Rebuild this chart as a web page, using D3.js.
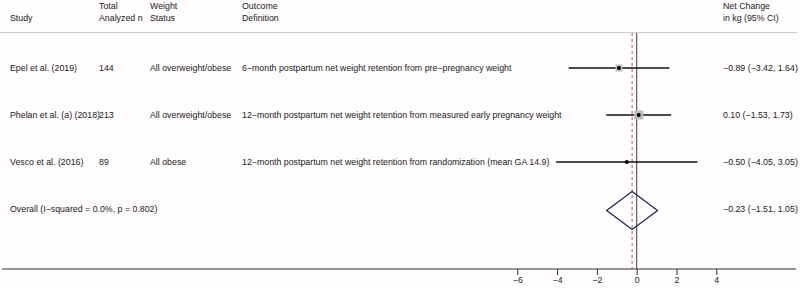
<!DOCTYPE html>
<html>
<head>
<meta charset="utf-8">
<script src="https://cdn.jsdelivr.net/npm/d3@7"></script>
<style>
  body { margin: 0; background: #fefcfc; }
  svg { display: block; font-family: "Liberation Sans", Arial, sans-serif; }
</style>
</head>
<body>
<svg id="chart" width="800" height="288"></svg>
<script>
// data
const studies = ["Epel et al. (2019)", "Phelan et al. (a) (2018)", "Vesco et al. (2016)"];
const totalN = ["144", "213", "89"];
const weightStatus = ["All overweight/obese", "All overweight/obese", "All obese"];
const outcomes = [
  "6\u2212month postpartum net weight retention from pre\u2212pregnancy weight",
  "12\u2212month postpartum net weight retention from measured early pregnancy weight",
  "12\u2212month postpartum net weight retention from randomization (mean GA 14.9)"
];
const estimates = [-0.89, 0.10, -0.50];
const lower = [-3.42, -1.53, -4.05];
const upper = [1.64, 1.73, 3.05];
const boxSize = [7, 9, 2];
const overall = {label: "Overall  (I\u2212squared = 0.0%, p = 0.802)", est: -0.23, lo: -1.51, hi: 1.05};
const tickValues = [-6, -4, -2, 0, 2, 4];

const fmt = d3.format(".2f");
const num = v => fmt(v).replace("-", "\u2212");

const svg = d3.select("#chart");
const textColor = "#222";
const fs = 8.8;

// x scale for effect sizes
const x = d3.scaleLinear().domain([-6, 4]).range([517.3, 716.3]);

// row positions
const rowY = d3.scalePoint().domain(d3.range(4)).range([68, 209]);

// header
const header = svg.append("g").attr("font-size", fs).attr("fill", textColor);
const hdr = [
  {x: 10, lines: ["", "Study"]},
  {x: 99, lines: ["Total", "Analyzed n"]},
  {x: 150, lines: ["Weight", "Status"]},
  {x: 242, lines: ["Outcome", "Definition"]},
  {x: 723, lines: ["Net Change", "in kg (95% CI)"]}
];
hdr.forEach(h => {
  h.lines.forEach((l, i) => {
    header.append("text").attr("x", h.x).attr("y", 9 + i * 12).text(l);
  });
});

svg.append("line")
  .attr("x1", 0).attr("x2", 797).attr("y1", 32.5).attr("y2", 32.5)
  .attr("stroke", "#cfcaca").attr("stroke-width", 1);

// reference lines
svg.append("line")
  .attr("x1", x(0)).attr("x2", x(0)).attr("y1", 33).attr("y2", 269)
  .attr("stroke", "#4a3a3a").attr("stroke-width", 1);
svg.append("line")
  .attr("x1", x(overall.est)).attr("x2", x(overall.est)).attr("y1", 33).attr("y2", 269)
  .attr("stroke", "#b05a5a").attr("stroke-width", 1).attr("stroke-dasharray", "3,3");

// study rows
const rows = svg.append("g").attr("font-size", fs).attr("fill", textColor);
studies.forEach((s, i) => {
  const y = rowY(i);
  rows.append("text").attr("x", 10).attr("y", y + 3).text(s);
  rows.append("text").attr("x", 99).attr("y", y + 3).text(totalN[i]);
  rows.append("text").attr("x", 150).attr("y", y + 3).text(weightStatus[i]);
  rows.append("text").attr("x", 242).attr("y", y + 3).text(outcomes[i]);
  rows.append("text").attr("x", 723).attr("y", y + 3)
    .text(`${num(estimates[i])} (${num(lower[i])}, ${num(upper[i])})`);

  svg.append("line")
    .attr("x1", x(lower[i])).attr("x2", x(upper[i]))
    .attr("y1", y).attr("y2", y)
    .attr("stroke", "#111").attr("stroke-width", 1.3);
  svg.append("rect")
    .attr("x", x(estimates[i]) - boxSize[i] / 2).attr("y", y - boxSize[i] / 2)
    .attr("width", boxSize[i]).attr("height", boxSize[i])
    .attr("fill", "#bdbdbd");
  svg.append("circle")
    .attr("cx", x(estimates[i])).attr("cy", y).attr("r", 2)
    .attr("fill", "#000");
});

// overall
const oy = rowY(3) + 1.5;
rows.append("text").attr("x", 10).attr("y", rowY(3) + 3).text(overall.label);
rows.append("text").attr("x", 723).attr("y", rowY(3) + 3)
  .text(`${num(overall.est)} (${num(overall.lo)}, ${num(overall.hi)})`);
svg.append("path")
  .attr("d", `M${x(overall.lo)},${oy} L${x(overall.est)},${oy - 19} L${x(overall.hi)},${oy} L${x(overall.est)},${oy + 19} Z`)
  .attr("fill", "none").attr("stroke", "#1c2157").attr("stroke-width", 1.2);

// axis
svg.append("line")
  .attr("x1", 2).attr("x2", 796).attr("y1", 269).attr("y2", 269)
  .attr("stroke", "#333").attr("stroke-width", 1);
const axis = svg.append("g")
  .attr("transform", "translate(0,269)")
  .call(d3.axisBottom(x).tickValues(tickValues).tickSize(6).tickSizeOuter(0)
    .tickFormat(d => String(d).replace("-", "\u2212")));
axis.select(".domain").remove();
axis.selectAll("line").attr("stroke", "#333");
axis.selectAll("text").attr("font-size", fs).attr("fill", textColor)
  .attr("font-family", "Liberation Sans, Arial, sans-serif").attr("dy", "0.6em");
</script>
</body>
</html>
